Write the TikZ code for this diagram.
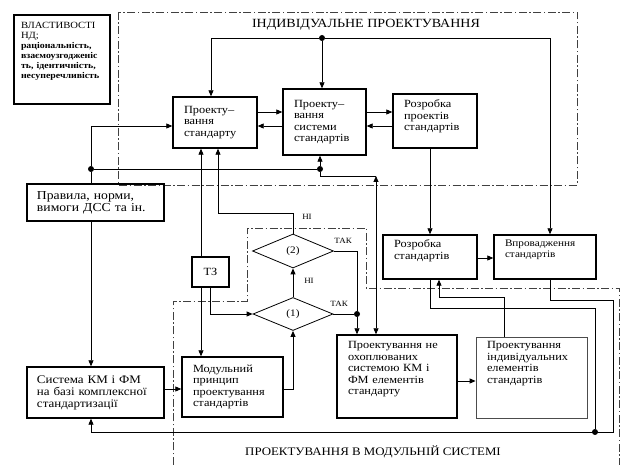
\documentclass[tikz,border=0pt]{standalone}
\usepackage{fontspec}
\setmainfont{Liberation Serif}[FakeStretch=1.12]
\usetikzlibrary{arrows.meta,shapes.geometric,calc}
\begin{document}
\begin{tikzpicture}[x=1pt,y=-1pt,
  txt/.style={font=\fontsize{11}{11.5}\selectfont},
  box/.style={draw,line width=1.4pt,inner ysep=2pt,inner xsep=0pt,align=left,txt},
  thinbox/.style={box,draw=black!70,line width=0.8pt},
  dmd/.style={draw,diamond,line width=0.8pt,inner sep=0pt,font=\fontsize{10}{11}\selectfont},
  con/.style={line width=0.8pt},
  arr/.style={con,-{Triangle[length=6pt,width=5pt]}},
  barr/.style={con,{Triangle[length=6pt,width=5pt]}-{Triangle[length=6pt,width=5pt]}},
  dot/.style={circle,fill,inner sep=0pt,minimum size=6pt},
  region/.style={draw=black!75,line width=0.7pt,dash pattern=on 8pt off 2.5pt on 1.5pt off 2.5pt},
  lbl/.style={font=\fontsize{8}{9}\selectfont,inner sep=1pt},
  ttl/.style={inner sep=0pt}]
\useasboundingbox (0,0) rectangle (625,465);
\fill[white] (0,0) rectangle (625,465);

% regions
\draw[region] (118,12) rectangle (577,185);
\draw[region] (173,465) -- (173,301) -- (247,301) -- (247,228) -- (366,228) -- (366,288) -- (619,288) -- (619,465);
\node[ttl,font=\fontsize{12.5}{13}\selectfont] (tind) at (366,25) {ІНДИВІДУАЛЬНЕ ПРОЕКТУВАННЯ};
\node[ttl,font=\fontsize{11.5}{13}\selectfont] (tmod) at (373,452) {ПРОЕКТУВАННЯ В МОДУЛЬНІЙ СИСТЕМІ};

% boxes
\node[box,line width=1.2pt,minimum width=96pt,minimum height=89pt,text width=82pt,inner ysep=7pt,text depth=68pt,font=\fontsize{9.5}{10}\selectfont] (prop) at (62,59.5)
  {ВЛАСТИВОСТІ\\НД;\\{\bfseries\fontsize{8.8}{9.6}\selectfont раціональність,}\\{\bfseries\fontsize{8.8}{9.6}\selectfont взаємоузгодженіс}\\{\bfseries\fontsize{8.8}{9.6}\selectfont ть, ідентичність,}\\{\bfseries\fontsize{8.8}{9.6}\selectfont несуперечливість}};
\node[box,minimum width=84pt,minimum height=51pt,text width=62pt] (b1) at (215,122.5) {Проекту–\\вання\\стандарту};
\node[box,minimum width=83pt,minimum height=66pt,text width=61pt] (b2) at (324.5,122) {Проекту–\\вання\\системи\\стандартів};
\node[box,minimum width=84pt,minimum height=54pt,text width=62pt,text depth=34pt] (b3) at (435,121) {Розробка\\проектів\\стандартів};
\node[box,minimum width=137pt,minimum height=37pt,text width=117pt,font=\fontsize{12.2}{12}\selectfont] (rules) at (95.5,202.5) {Правила, норми,\\вимоги ДСС та ін.};
\node[box,minimum width=37pt,minimum height=30pt,align=center] (tz) at (210.5,272) {ТЗ};
\node[dmd,minimum width=81pt,minimum height=34pt] (d2) at (293,251) {(2)};
\node[dmd,minimum width=80pt,minimum height=33pt] (d1) at (293,314) {(1)};
\node[box,minimum width=94pt,minimum height=44pt,text width=72pt,text depth=26pt] (rs) at (430,257) {Розробка\\стандартів};
\node[box,minimum width=102pt,minimum height=44pt,text width=80pt,text depth=28pt,font=\fontsize{10}{11}\selectfont] (vs) at (545,257) {Впровадження\\стандартів};
\node[box,minimum width=137pt,minimum height=51pt,text width=117pt,font=\fontsize{11.6}{12}\selectfont] (km) at (95.5,392.5)
  {\makebox[117pt][s]{Система КМ і ФМ}\\\makebox[117pt][s]{на базі комплексної}\\стандартизації};
\node[box,minimum width=101pt,minimum height=60pt,text width=79pt] (mod) at (232.5,387) {Модульний\\принцип\\проектування\\стандартів};
\node[box,minimum width=120pt,minimum height=83pt,text width=98pt,text depth=63pt] (neo) at (397,376.5) {Проектування не\\охоплюваних\\системою КМ і\\ФМ елементів\\стандарту};
\node[thinbox,minimum width=111pt,minimum height=81pt,text width=89pt,text depth=65pt] (ind) at (531.5,377.5) {Проектування\\індивідуальних\\елементів\\стандартів};

% dots and corners
\node[dot] (T) at (322,38) {};
\node[dot] (L) at (91,169) {};
\node[dot] (M) at (320,169) {};
\node[dot] (J) at (357,314) {};
\node[dot] (B) at (595,432) {};
\coordinate (C1) at (376,176);
\coordinate (R1) at (613,300);
\coordinate (R2) at (613,432);
\coordinate (R3) at (595,308);
\coordinate (R4) at (439,297);

% connectors
\draw[arr] (T) -| ([xshift=-4pt]b1.north);
\draw[arr] (T) -- (T |- b2.north);
\draw[arr] (T) -| ([xshift=5pt]vs.north);
\draw[arr] (b1.east |- 0,112) -- (b2.west |- 0,112);
\draw[arr] (b2.west |- 0,126) -- (b1.east |- 0,126);
\draw[arr] (b2.east |- 0,112) -- (b3.west |- 0,112);
\draw[arr] (b3.west |- 0,126) -- (b2.east |- 0,126);
\draw[arr] (b3.south -| rs.north) -- (rs.north);
\draw[arr] (L) |- (b1.west |- 0,126);
\draw[con] (L) -- (rules.north -| L);
\draw[arr] (rules.south -| L) -- (km.north -| L);
\draw[con] (L) -- (M);
\draw[arr] (M) -- (M |- b2.south);
\draw[con] (M) |- (C1);
\draw[barr] (C1) -- (neo.north -| C1);
\draw[arr] (tz.north -| 201,0) -- (b1.south -| 201,0);
\draw[arr] (tz.south -| 201,0) -- (mod.north -| 201,0);
\draw[arr] (tz.south -| 210,0) |- (d1.west);
\draw[arr] (d2.north) -- (d2.north |- 0,213) -| (b1.south -| 218,0);
\draw[arr] (d1.north) -- (d2.south);
\draw[con] (d2.east) -| (J);
\draw[con] (d1.east) -- (J);
\draw[arr] (J) -- (J |- neo.north);
\draw[arr] (rs.east |- 0,258) -- (vs.west |- 0,258);
\draw[arr] ([xshift=5pt]vs.south) |- (R1) -- (R2) -| (km.south -| L);
\draw[con] (rs.north |- rs.south) |- (R3) -- (B);
\draw[arr] (ind.north -| 504,0) |- (R4) -- (rs.south -| R4);
\draw[arr] (km.east |- 0,389) -- (mod.west |- 0,389);
\draw[arr] (mod.east |- 0,389) -| (d1.south);
\draw[arr] (neo.east |- 0,381) -- (ind.west |- 0,381);

% labels
\node[lbl] (n1) at (307,217) {НІ};
\node[lbl] (n2) at (309,281) {НІ};
\node[lbl] (t1) at (343,241) {ТАК};
\node[lbl] (t2) at (339,304) {ТАК};
\end{tikzpicture}
\end{document}
